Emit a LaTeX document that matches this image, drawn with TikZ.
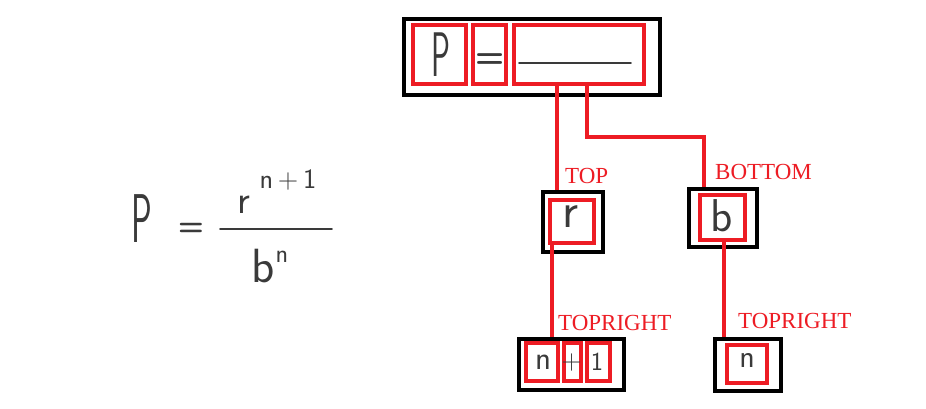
\documentclass[tikz,border=0pt]{standalone}
\usepackage{fontspec}
\usepackage{graphicx}
\newfontfamily\labelfont{Liberation Serif}
\definecolor{pred}{HTML}{ED1C24}
\definecolor{ink}{HTML}{3A3A3A}
\begin{document}
\begin{tikzpicture}[x=1pt,y=-1pt,
  blk/.style={draw=black,line width=4.5pt,inner sep=0pt,rectangle},
  rbox/.style={draw=pred,line width=4pt,inner sep=0pt,rectangle},
  conn/.style={draw=pred,line width=4pt},
  hw/.style={text=ink,inner sep=0pt},
  hwline/.style={draw=ink,line width=1.8pt,line cap=round},
  lbl/.style={text=pred,inner sep=0pt,anchor=base west,font=\labelfont\fontsize{23}{23}\selectfont}]
\useasboundingbox (0,0) rectangle (926,409);
\fill[white] (0,0) rectangle (926,409);

% ---------- left formula ----------
\node[hw,font=\sffamily\fontsize{69}{69}\selectfont] (fP) at (142,219) {\scalebox{0.5}[1]{P}};
\node[hw,font=\sffamily\bfseries\fontsize{30}{30}\selectfont] (feq) at (191,229) {=};
\coordinate (flL) at (220,229);
\coordinate (flR) at (332,229);
\draw[hwline] (flL) -- (flR);
\node[hw,font=\sffamily\fontsize{40}{40}\selectfont] (fr) at (244,205) {r};
\node[hw,font=\sffamily\fontsize{28}{28}\selectfont] (fexp) at (288,180) {n\,+\,1};
\node[hw,font=\sffamily\fontsize{48}{48}\selectfont] (fb) at (263,266) {b};
\node[hw,font=\sffamily\fontsize{26}{26}\selectfont] (fn) at (282,257) {n};

% ---------- black boxes ----------
\node[blk,minimum width=256pt,minimum height=76pt] (main) at (532,57) {};
\node[blk,minimum width=60pt,minimum height=60pt] (rblk) at (573,222) {};
\node[blk,minimum width=68pt,minimum height=58pt] (bblk) at (723,218) {};
\node[blk,minimum width=105pt,minimum height=51pt] (npblk) at (571.5,364.5) {};
\node[blk,minimum width=66pt,minimum height=52pt] (nblk) at (748,365) {};

% ---------- red boxes ----------
\node[rbox,minimum width=53pt,minimum height=59pt] (Pbox) at (439.5,54.5) {};
\node[rbox,minimum width=33pt,minimum height=59pt] (eqbox) at (489.5,54.5) {};
\node[rbox,minimum width=130pt,minimum height=59pt] (frac) at (579,54.5) {};
\node[rbox,minimum width=44pt,minimum height=43pt] (rred) at (572,221.5) {};
\node[rbox,minimum width=45pt,minimum height=45pt] (bred) at (722.5,217.5) {};
\node[rbox,minimum width=32pt,minimum height=38pt] (nred) at (542,362) {};
\node[rbox,minimum width=17pt,minimum height=38pt] (plusred) at (572.5,362) {};
\node[rbox,minimum width=23pt,minimum height=38pt] (onered) at (598.5,362) {};
\node[rbox,minimum width=40pt,minimum height=38pt] (n2red) at (747,364) {};

% ---------- handwriting inside boxes ----------
\node[hw,font=\sffamily\fontsize{63}{63}\selectfont] (mP) at (441,55) {\scalebox{0.5}[1]{P}};
\node[hw,font=\sffamily\bfseries\fontsize{34}{34}\selectfont] (meq) at (490,61) {=};
\coordinate (mlL) at (519,63);
\coordinate (mlR) at (631,63);
\draw[hwline] (mlL) -- (mlR);
\node[hw,font=\sffamily\fontsize{50}{50}\selectfont] (tr) at (570,217) {r};
\node[hw,font=\sffamily\fontsize{46}{46}\selectfont] (tb) at (722,216) {b};
\node[hw,font=\sffamily\fontsize{33}{33}\selectfont] (tn) at (543,362) {n};
\node[hw,font=\sffamily\fontsize{28}{28}\selectfont] (tplus) at (571.5,363) {+};
\node[hw,font=\sffamily\fontsize{26}{26}\selectfont] (tone) at (597,362) {1};
\node[hw,font=\sffamily\fontsize{32}{32}\selectfont] (tn2) at (747,360) {n};

% ---------- connectors ----------
\coordinate (bend) at (587,137);
\draw[conn] ([xshift=-22pt]frac.south) -- ([xshift=-22pt]frac.south |- rblk.north);
\draw[conn] (frac.south -| bend) -- (bend) -| ([xshift=-19pt]bblk.north);
\draw[conn] ([xshift=-20pt]rred.south) -- ([xshift=-20pt]rred.south |- npblk.north);
\draw[conn] ([xshift=1.5pt]bred.south) -- ([xshift=1.5pt]bred.south |- nblk.north);

% ---------- labels ----------
\node[lbl] (ltop) at (565,183) {TOP};
\node[lbl] (lbot) at (715,179) {BOTTOM};
\node[lbl] (ltr1) at (558,330) {TOPRIGHT};
\node[lbl] (ltr2) at (738,328) {TOPRIGHT};
\end{tikzpicture}
\end{document}
